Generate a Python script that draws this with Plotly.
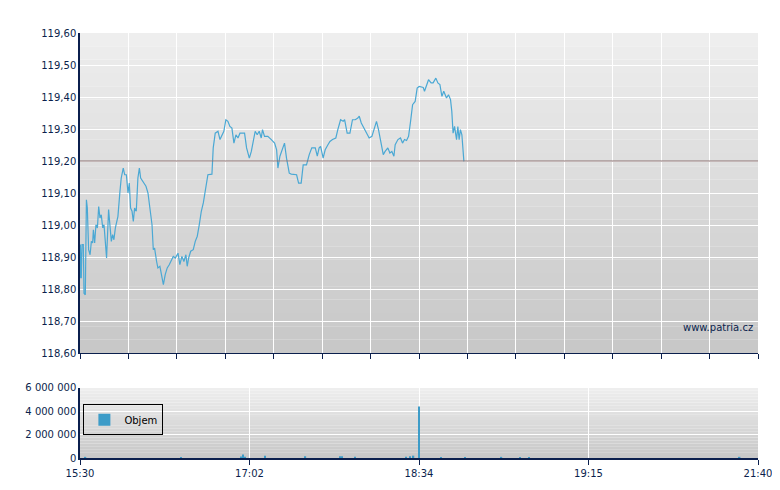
import plotly.graph_objects as go

minutes = [0,0.2,0.7,1.1,1.8,2.2,2.9,3.5,4.0,4.7,5.5,6.2,6.9,7.3,8.0,8.7,9.5,9.8,10.2,10.9,11.6,12.4,13.1,13.8,14.5,15.6,16.4,17.1,17.8,18.5,19.3,20.7,21.8,22.5,23.6,24.4,25.3,26.2,26.9,27.6,28.4,29.1,29.8,30.7,31.6,32.4,33.1,34.5,36.0,37.1,38.2,39.3,40.0,40.7,41.8,42.5,43.6,44.4,45.5,46.5,47.6,48.7,49.8,50.9,52.0,53.5,54.5,55.6,56.7,57.8,58.5,59.3,60.4,61.8,62.9,64.0,65.1,66.2,67.3,68.4,69.1,69.8,72.0,72.7,73.8,75.3,76.4,77.5,78.5,79.6,80.7,81.8,82.9,84.0,85.1,86.2,87.3,88.4,89.8,90.9,92.4,93.5,94.9,95.6,96.7,97.8,98.9,99.6,100.7,102.5,104.4,106.2,107.3,108.0,109.1,110.5,111.6,112.7,114.2,115.3,118.2,119.3,120.7,121.8,123.6,125.1,126.5,128.4,129.5,130.5,131.3,132.7,133.8,135.3,136.4,137.8,139.6,140.7,142.2,143.6,144.4,145.8,147.3,148.7,150.2,151.6,152.4,153.5,154.9,156.4,157.8,159.3,160.7,161.8,162.9,164.4,165.5,166.5,168.0,169.1,170.2,171.3,172.0,173.5,174.9,176.0,177.1,178.2,179.3,180.4,181.5,182.9,184.0,185.1,187.3,188.0,189.1,190.2,191.6,192.7,194.2,195.3,196.4,197.5,198.5,200.0,201.1,202.2,202.9,203.6,204.4,205.5,206.2,206.9,207.6,208.4,209.5]
prices = [118.834,118.939,118.834,118.939,118.939,118.787,118.782,119.079,119.053,118.923,118.907,118.949,118.944,118.985,118.944,119.001,118.991,119.027,119.058,119.022,119.032,118.991,119.001,118.949,118.897,119.048,119.001,118.949,118.970,118.954,118.991,119.027,119.105,119.147,119.178,119.157,119.157,119.100,119.131,119.053,119.043,119.011,119.053,119.043,119.147,119.178,119.147,119.136,119.121,119.100,119.043,119.001,118.923,118.928,118.886,118.866,118.871,118.850,118.814,118.845,118.866,118.876,118.892,118.902,118.897,118.912,118.876,118.902,118.886,118.907,118.871,118.897,118.918,118.923,118.949,118.965,119.001,119.043,119.069,119.105,119.136,119.157,119.159,119.241,119.287,119.293,119.267,119.282,119.293,119.329,119.324,119.308,119.303,119.256,119.282,119.272,119.287,119.287,119.287,119.241,119.209,119.230,119.272,119.293,119.282,119.293,119.272,119.298,119.277,119.277,119.267,119.256,119.235,119.178,119.215,119.235,119.256,119.209,119.162,119.159,119.157,119.131,119.131,119.188,119.188,119.220,119.241,119.241,119.215,119.241,119.246,119.209,119.235,119.251,119.261,119.267,119.272,119.298,119.329,119.324,119.329,119.287,119.287,119.329,119.329,119.334,119.340,119.319,119.303,119.287,119.272,119.277,119.303,119.324,119.298,119.251,119.220,119.230,119.241,119.225,119.230,119.215,119.251,119.267,119.272,119.256,119.267,119.264,119.277,119.324,119.376,119.386,119.428,119.433,119.430,119.418,119.439,119.454,119.444,119.444,119.459,119.444,119.439,119.402,119.418,119.397,119.407,119.392,119.355,119.287,119.308,119.267,119.308,119.267,119.298,119.282,119.199]

vol_minutes = [3,55,88,89,90,101,123,142,143,150,178,180,182,185,197,210,230,240,245,360]
vol_values = [50000,60000,120000,300000,100000,200000,150000,150000,150000,100000,100000,150000,200000,4400000,50000,60000,60000,60000,60000,100000]

ref_price = 119.20
x_tick_vals = [0, 92.5, 185, 277.5, 370]
x_tick_labels = ["15:30", "17:02", "18:34", "19:15", "21:40"]
price_ticks = [118.6 + 0.1*i for i in range(11)]

navy = "#0b1f4d"
fig = go.Figure()
fig.add_trace(go.Scatter(x=minutes, y=prices, mode="lines", line=dict(color="#4aa8d4", width=1.2),
                         xaxis="x", yaxis="y", showlegend=False, hoverinfo="skip"))
fig.add_trace(go.Bar(x=vol_minutes, y=vol_values, width=0.8, marker=dict(color="#3d9cc8", line=dict(width=0)),
                     xaxis="x2", yaxis="y2", name="Objem"))

n = 24
for (y0, y1) in [(0.247, 1.0), (0.0, 0.165)]:
    for i in range(n):
        t = i / (n - 1)
        g = int(200 + (238 - 200) * t)
        a = y0 + (y1 - y0) * i / n
        b = y0 + (y1 - y0) * (i + 1) / n
        fig.add_shape(type="rect", xref="paper", yref="paper", x0=0, x1=1, y0=a, y1=b,
                      fillcolor=f"rgb({g},{g},{g})", line=dict(width=0), layer="below")

fig.add_shape(type="line", xref="x", yref="y", x0=0, x1=370, y0=ref_price, y1=ref_price,
              line=dict(color="#8a7070", width=1))

grid = [370/14*i for i in range(15)]
fig.update_layout(
    width=780, height=490, margin=dict(l=72, r=30, t=25, b=40),
    paper_bgcolor="white", plot_bgcolor="rgba(0,0,0,0)",
    separators=", ",
    font=dict(family="DejaVu Sans", size=10, color=navy),
    xaxis=dict(range=[0, 370], tickvals=grid, showticklabels=False, ticks="outside", ticklen=5,
               tickcolor=navy, showgrid=True, gridcolor="white", gridwidth=1.3, zeroline=False,
               showline=True, linecolor=navy, anchor="y", automargin=False),
    yaxis=dict(domain=[0.247, 1], range=[118.6, 119.6], tickvals=price_ticks, tickformat=".2f",
               showgrid=True, gridcolor="white", gridwidth=1.3, zeroline=False, showline=True,
               linecolor=navy, linewidth=1.5, ticks="", automargin=False),
    xaxis2=dict(range=[0, 370], tickvals=x_tick_vals, ticktext=x_tick_labels, ticks="outside", ticklen=5,
                tickcolor=navy, showgrid=True, gridcolor="white", gridwidth=1.3, zeroline=False,
                showline=True, linecolor=navy, linewidth=1.5, anchor="y2", automargin=False),
    yaxis2=dict(domain=[0, 0.165], range=[0, 6000000], tickvals=[0, 2000000, 4000000, 6000000],
                tickformat=",d", showgrid=True, gridcolor="white", gridwidth=1.3, zeroline=False,
                showline=True, linecolor=navy, linewidth=1.5, anchor="x2", automargin=False),
    showlegend=True,
    legend=dict(x=0.005, y=0.09, xanchor="left", yanchor="middle", bgcolor="rgba(0,0,0,0)",
                bordercolor="black", borderwidth=1, itemwidth=30, font=dict(size=10, color="black"),
                tracegroupgap=0),
    annotations=[dict(text="www.patria.cz", xref="paper", yref="paper", x=0.995, y=0.29,
                      xanchor="right", yanchor="bottom", showarrow=False,
                      font=dict(size=10, color=navy))],
)
fig.write_html("out.html")
